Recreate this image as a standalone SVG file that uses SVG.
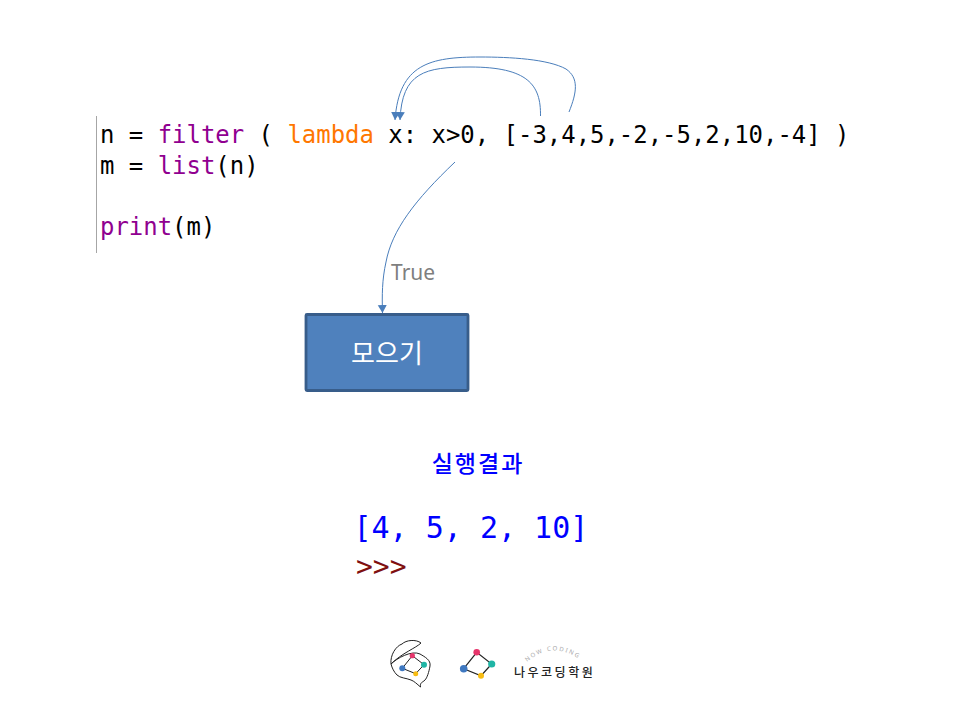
<svg xmlns="http://www.w3.org/2000/svg" width="960" height="720" viewBox="0 0 960 720">
<style>
.code{font-family:"DejaVu Sans Mono","Liberation Mono",monospace;font-size:23.95px;fill:#000}
.kw{fill:#900090}
.lam{fill:#ff7700}
.conn{fill:none;stroke:#4a7ebb;stroke-width:1}
.kr{font-family:"Noto Sans CJK KR","Noto Sans",sans-serif}
.out{font-family:"DejaVu Sans Mono","Liberation Mono",monospace}
</style>
<defs>
<marker id="arrow" markerUnits="userSpaceOnUse" markerWidth="10" markerHeight="10" refX="8" refY="4.500" orient="auto"><path d="M0,0L8,4.500L0,9Z" fill="#4a7ebb"/></marker>
</defs>
<rect width="960" height="720" fill="#fff"/>
<g id="code">
<line x1="96.500" y1="116" x2="96.500" y2="253" stroke="#a6a6a6" stroke-width="1"/>
<text class="code" x="100" y="143" xml:space="preserve">n = <tspan class="kw">filter</tspan> ( <tspan class="lam">lambda</tspan> x: x&gt;0, [-3,4,5,-2,-5,2,10,-4] )</text>
<text class="code" x="100" y="174" xml:space="preserve">m = <tspan class="kw">list</tspan>(n)</text>
<text class="code" x="100" y="235" xml:space="preserve"><tspan class="kw">print</tspan>(m)</text>
</g>
<g id="connectors">
<path class="conn" marker-end="url(#arrow)" d="M540.500,116C541,85 528,67 470,67C425,67 402,72 400,120"/>
<path class="conn" marker-end="url(#arrow)" d="M569,112C577,92 579,78 566,69C548,59 510,57 480,57C430,57 399,64 395,120"/>
<path class="conn" marker-end="url(#arrow)" d="M455,162C415,200 392,230 386,262C382,280 382,295 382.500,313"/>
</g>
<text id="true-label" x="391" y="280" font-family="Noto Sans,sans-serif" font-size="21" fill="#7f7f7f">True</text>
<g id="collector">
<rect x="306" y="314.500" width="162" height="76" rx="1" fill="#4f81bd" stroke="#385d8a" stroke-width="2.800"/>
<text class="kr" x="387" y="362.500" font-size="26" fill="#fff" text-anchor="middle">모으기</text>
</g>
<g id="result">
<text class="kr" x="478" y="472" font-size="23" font-weight="500" fill="#0000ff" text-anchor="middle" letter-spacing="2">실행결과</text>
<text class="out" x="353.500" y="538" font-size="30" fill="#0000ff" xml:space="preserve">[4, 5, 2, 10]</text>
<text class="out" x="356" y="576" font-size="28" fill="#7f1010" xml:space="preserve">&gt;&gt;&gt;</text>
</g>
<g id="logo">
<path d="M391,664C390,655 396,646 402,644C406,640 416,639 421,643C416,648 402,653 391,664C397,658 412,650 420,654C425,657 431,660 430,666C429,672 427,678 425,680C422,683 420,682 420.500,687C417,684 414,681 411,680C406,678 400,678 397,675C394,672 392,668 391,664Z" fill="none" stroke="#222" stroke-width="1"/>
<path d="M402.300,668.300L412.300,655.700L424,664.700L415.700,673.700Z" fill="none" stroke="#222" stroke-width="1"/>
<circle cx="412.300" cy="655.700" r="2.600" fill="#e6356b"/><circle cx="424" cy="664.700" r="3" fill="#1fb5a5"/><circle cx="415.700" cy="673.700" r="2.500" fill="#f7bc12"/><circle cx="402.300" cy="668.300" r="3" fill="#3f78c0"/>
<path d="M463.700,668.700L476.700,652.300L491.700,664L481,675.700Z" fill="none" stroke="#222" stroke-width="1.200"/>
<circle cx="476.700" cy="652.300" r="3.300" fill="#e6356b"/><circle cx="491.700" cy="664" r="3.600" fill="#1fb5a5"/><circle cx="481" cy="675.700" r="3" fill="#f7bc12"/><circle cx="463.700" cy="668.700" r="3.800" fill="#3f78c0"/>
<path id="arc" d="M527,662Q552,640 581,660" fill="none"/>
<text font-family="Noto Sans,sans-serif" font-size="6" fill="#a8a8a8" letter-spacing="1.700"><textPath href="#arc">NOW CODING</textPath></text>
<text class="kr" x="514" y="677" font-size="12" font-weight="500" fill="#222" letter-spacing="2.500">나우코딩학원</text>
</g>
</svg>
